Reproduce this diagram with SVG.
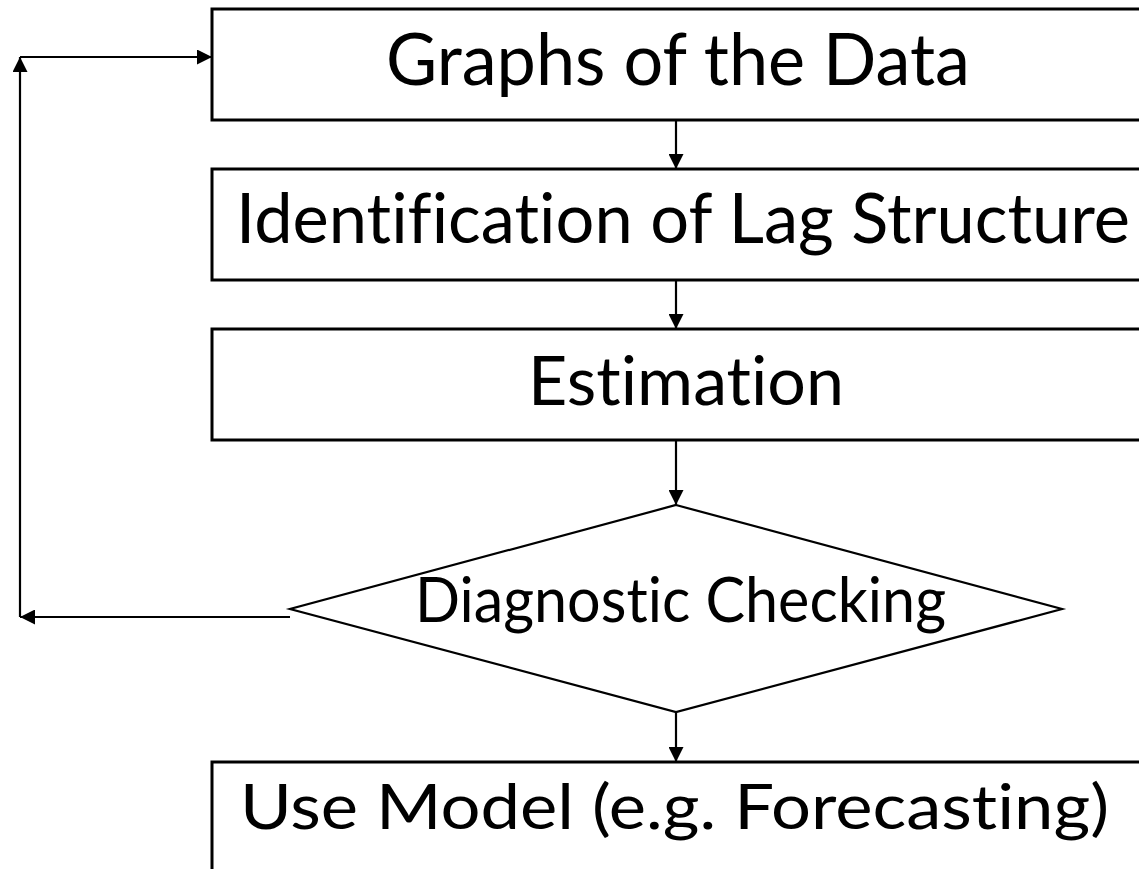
<svg xmlns="http://www.w3.org/2000/svg" width="1139" height="869" viewBox="0 0 1139 869">
  <style>
    .box { fill: #ffffff; stroke: #000000; stroke-width: 3; }
    .dia { fill: #ffffff; stroke: #000000; stroke-width: 2.2; }
    .lbl { font-family: "Lato", "Open Sans", "Liberation Sans", sans-serif; fill: #000000; font-variant-ligatures: none; font-feature-settings: "liga" 0, "clig" 0; }
    .wire { fill: none; stroke: #000000; stroke-width: 2.2; marker-end: url(#head); }
  </style>
  <defs>
    <marker id="head" viewBox="0 0 10 10" refX="10" refY="5" markerUnits="userSpaceOnUse" markerWidth="15" markerHeight="15" orient="auto">
      <path d="M0,0 L10,5 L0,10 Z" fill="#000000"/>
    </marker>
  </defs>
  <rect width="1139" height="869" fill="#ffffff"/>

  <g id="graphs">
    <rect class="box" x="212" y="9" width="940" height="111"/>
    <text class="lbl" x="386" y="85" font-size="72" textLength="584" lengthAdjust="spacingAndGlyphs">Graphs of the Data</text>
  </g>

  <g id="identification">
    <rect class="box" x="212" y="169" width="940" height="111"/>
    <text class="lbl" x="236" y="243" font-size="69" textLength="894" lengthAdjust="spacingAndGlyphs">Identification of Lag Structure</text>
  </g>

  <g id="estimation">
    <rect class="box" x="212" y="329" width="940" height="111"/>
    <text class="lbl" x="528" y="405" font-size="67" textLength="316" lengthAdjust="spacingAndGlyphs">Estimation</text>
  </g>

  <g id="diagnostic">
    <polygon class="dia" points="676,505 1062,609 676,712 290,609"/>
    <text class="lbl" x="415" y="622" font-size="62" textLength="531" lengthAdjust="spacingAndGlyphs">Diagnostic Checking</text>
  </g>

  <g id="use-model">
    <rect class="box" x="212" y="762" width="940" height="130"/>
    <text class="lbl" x="240" y="829" font-size="62" textLength="869" lengthAdjust="spacingAndGlyphs">Use Model (e.g. Forecasting)</text>
  </g>

  <g id="connectors">
    <line class="wire" x1="676" y1="120" x2="676" y2="169"/>
    <line class="wire" x1="676" y1="280" x2="676" y2="329"/>
    <line class="wire" x1="676" y1="440" x2="676" y2="505"/>
    <line class="wire" x1="676" y1="712" x2="676" y2="762"/>
    <!-- feedback loop back to the top -->
    <line class="wire" x1="290" y1="617" x2="20" y2="617"/>
    <line class="wire" x1="20" y1="617" x2="20" y2="57"/>
    <line class="wire" x1="20" y1="57" x2="212" y2="57"/>
  </g>
</svg>
